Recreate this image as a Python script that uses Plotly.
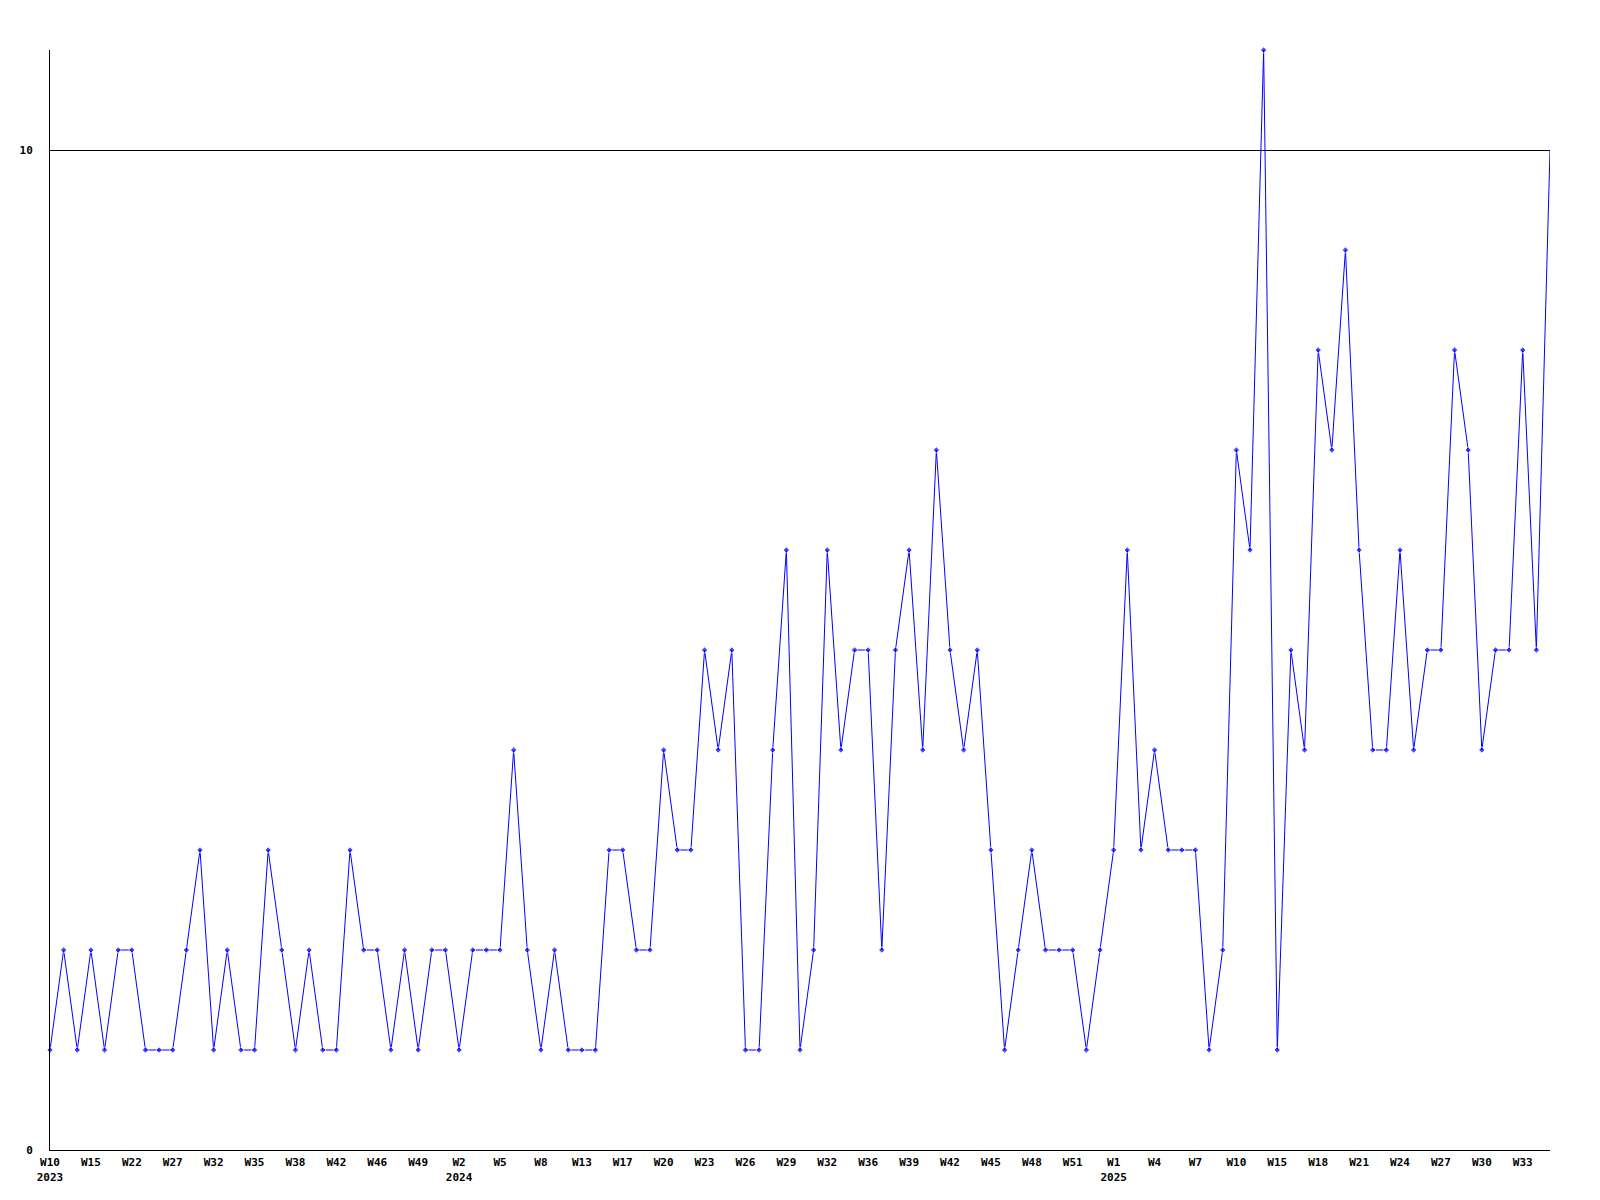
import plotly.graph_objects as go

# Weekly values (one per plotted week, oldest first)
values = [
    1, 2, 1, 2, 1, 2, 2, 1, 1, 1,
    2, 3, 1, 2, 1, 1, 3, 2, 1, 2,
    1, 1, 3, 2, 2, 1, 2, 1, 2, 2,
    1, 2, 2, 2, 4, 2, 1, 2, 1, 1,
    1, 3, 3, 2, 2, 4, 3, 3, 5, 4,
    5, 1, 1, 4, 6, 1, 2, 6, 4, 5,
    5, 2, 5, 6, 4, 7, 5, 4, 5, 3,
    1, 2, 3, 2, 2, 2, 1, 2, 3, 6,
    3, 4, 3, 3, 3, 1, 2, 7, 6, 11,
    1, 5, 4, 8, 7, 9, 6, 4, 4, 6,
    4, 5, 5, 8, 7, 4, 5, 5, 8, 5,
    10,
]

# Axis labels shown every third week
week_labels = [
    "W10", "W15", "W22", "W27", "W32", "W35", "W38", "W42", "W46", "W49",
    "W2", "W5", "W8", "W13", "W17", "W20", "W23", "W26", "W29", "W32",
    "W36", "W39", "W42", "W45", "W48", "W51",
    "W1", "W4", "W7", "W10", "W15", "W18", "W21", "W24", "W27", "W30", "W33",
]
year_labels = {"W10": "2023", "W2": "2024", "W1": "2025"}
label_step = 3

y_ticks = [0, 10]

x = list(range(len(values)))
tickvals = [i * label_step for i in range(len(week_labels))]
ticktext = []
seen_years = set()
for lab in week_labels:
    yr = year_labels.get(lab)
    if yr and yr not in seen_years:
        seen_years.add(yr)
        ticktext.append(f"{lab}<br>{yr}")
    else:
        ticktext.append(lab)

marker_sizes = [5] * (len(values) - 1) + [0]

fig = go.Figure()
fig.add_trace(go.Scatter(
    x=x, y=values, mode="lines+markers",
    line=dict(color="#0000ff", width=1),
    marker=dict(symbol="diamond", size=marker_sizes, color="#0000ff"),
    cliponaxis=False,
    showlegend=False,
    hoverinfo="skip",
))

tick_font = dict(family="DejaVu Sans Mono", size=11, color="black", weight="bold")

fig.update_layout(
    width=1592, height=1192,
    margin=dict(l=42, r=50, t=42, b=50),
    paper_bgcolor="white", plot_bgcolor="white",
    font=dict(family="DejaVu Sans Mono", size=11, color="black"),
    xaxis=dict(
        range=[0, len(values) - 1],
        tickmode="array", tickvals=tickvals, ticktext=ticktext,
        showgrid=False, zeroline=False,
        showline=True, linecolor="black", linewidth=1,
        ticks="", tickfont=tick_font, tickangle=0,
        ticklabelstandoff=2,
    ),
    yaxis=dict(
        range=[0, 11],
        tickmode="array", tickvals=y_ticks, ticktext=[str(v) for v in y_ticks],
        showgrid=True, gridcolor="black", gridwidth=1,
        zeroline=False,
        showline=True, linecolor="black", linewidth=1,
        ticks="", ticklabelstandoff=14,
        tickfont=tick_font,
    ),
)

fig.write_html("out.html")
